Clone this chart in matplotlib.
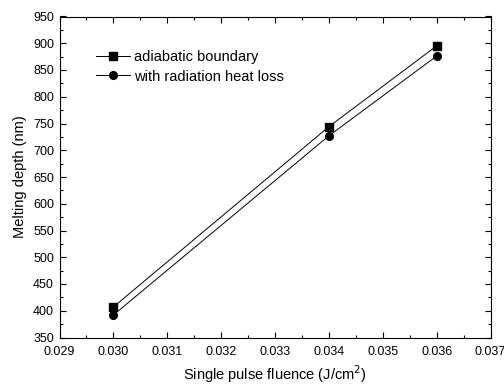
import matplotlib
matplotlib.use('Agg')
import matplotlib.pyplot as plt
from matplotlib.ticker import MultipleLocator

plt.rcParams['font.family'] = ['Liberation Sans', 'DejaVu Sans']

# data
fluence = [0.030, 0.034, 0.036]
adiabatic = [407, 744, 895]
radiation = [392, 727, 876]

fig = plt.figure(figsize=(5.04, 3.86), dpi=100)
ax = fig.add_axes([59.5 / 504, 1 - 337.5 / 386, 431 / 504, 321 / 386])

ax.plot(fluence, adiabatic, color='black', lw=0.7, marker='s', ms=5.5,
        label='adiabatic boundary')
ax.plot(fluence, radiation, color='black', lw=0.7, marker='o', ms=5.5,
        label='with radiation heat loss')

ax.set_xlim(0.029, 0.037)
ax.set_ylim(350, 950)
ax.xaxis.set_major_locator(MultipleLocator(0.001))
ax.xaxis.set_minor_locator(MultipleLocator(0.0005))
ax.yaxis.set_major_locator(MultipleLocator(50))
ax.yaxis.set_minor_locator(MultipleLocator(25))
ax.xaxis.set_major_formatter(plt.FuncFormatter(lambda v, p: f'{v:.3f}'))

ax.tick_params(which='both', direction='in', top=True, right=True,
               labelsize=9, width=0.8, colors='black')
ax.tick_params(which='major', length=4)
ax.tick_params(which='minor', length=2.5)
ax.tick_params(axis='x', pad=6)
ax.tick_params(axis='y', pad=4)
for s in ax.spines.values():
    s.set_linewidth(0.8)

ax.set_xlabel('Single pulse fluence (J/cm$^2$)', fontsize=10.5, labelpad=4)
ax.set_ylabel('Melting depth (nm)', fontsize=10.5, labelpad=4)

ax.legend(loc='upper left', bbox_to_anchor=(0.055, 0.935), frameon=False,
          fontsize=10.5, handlelength=2.3, handletextpad=0.3, labelspacing=0.35)

fig.savefig('out.png', dpi=100)
